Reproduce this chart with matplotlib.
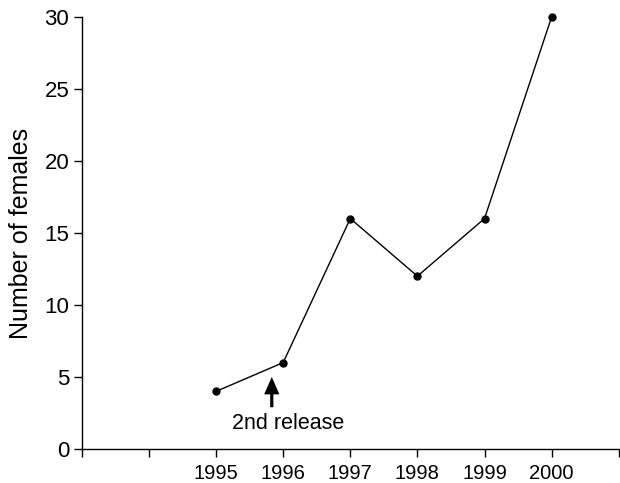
import matplotlib
matplotlib.use("Agg")
import matplotlib.pyplot as plt

years = [1995, 1996, 1997, 1998, 1999, 2000]
females = [4, 6, 16, 12, 16, 30]
xticks = [1993, 1994, 1995, 1996, 1997, 1998, 1999, 2000, 2001]
xticklabels = ["", "", "1995", "1996", "1997", "1998", "1999", "2000", ""]
yticks = [0, 5, 10, 15, 20, 25, 30]

plt.rcParams['font.family'] = ['Liberation Sans', 'DejaVu Sans']

fig = plt.figure(figsize=(6.2, 4.83), dpi=100)
ax = fig.add_axes([0.132, 0.0704, 0.866, 0.8946])

ax.plot(years, females, color='black', lw=1.0, marker='o', markersize=5,
        clip_on=False)

ax.set_xlim(1993, 2001)
ax.set_ylim(0, 30)
ax.set_xticks(xticks)
ax.set_xticklabels(xticklabels, fontsize=14.5)
ax.set_yticks(yticks)
ax.set_yticklabels([str(v) for v in yticks], fontsize=16)
ax.tick_params(axis='both', direction='out', length=6, width=1, color='black')
ax.tick_params(axis='x', pad=5)
ax.tick_params(axis='y', pad=3)
ax.spines['top'].set_visible(False)
ax.spines['right'].set_visible(False)
for s in ['left', 'bottom']:
    ax.spines[s].set_linewidth(1)
ax.set_ylabel("Number of females", fontsize=18, labelpad=8)

ax.annotate('', xy=(1995.83, 5.0), xytext=(1995.83, 2.9),
            arrowprops=dict(width=2.3, headwidth=11, headlength=12.5,
                            shrink=0, facecolor='black', edgecolor='none'))
ax.text(1996.08, 1.8, "2nd release", fontsize=15.5, ha='center', va='center')

fig.savefig("out.png", dpi=100)
